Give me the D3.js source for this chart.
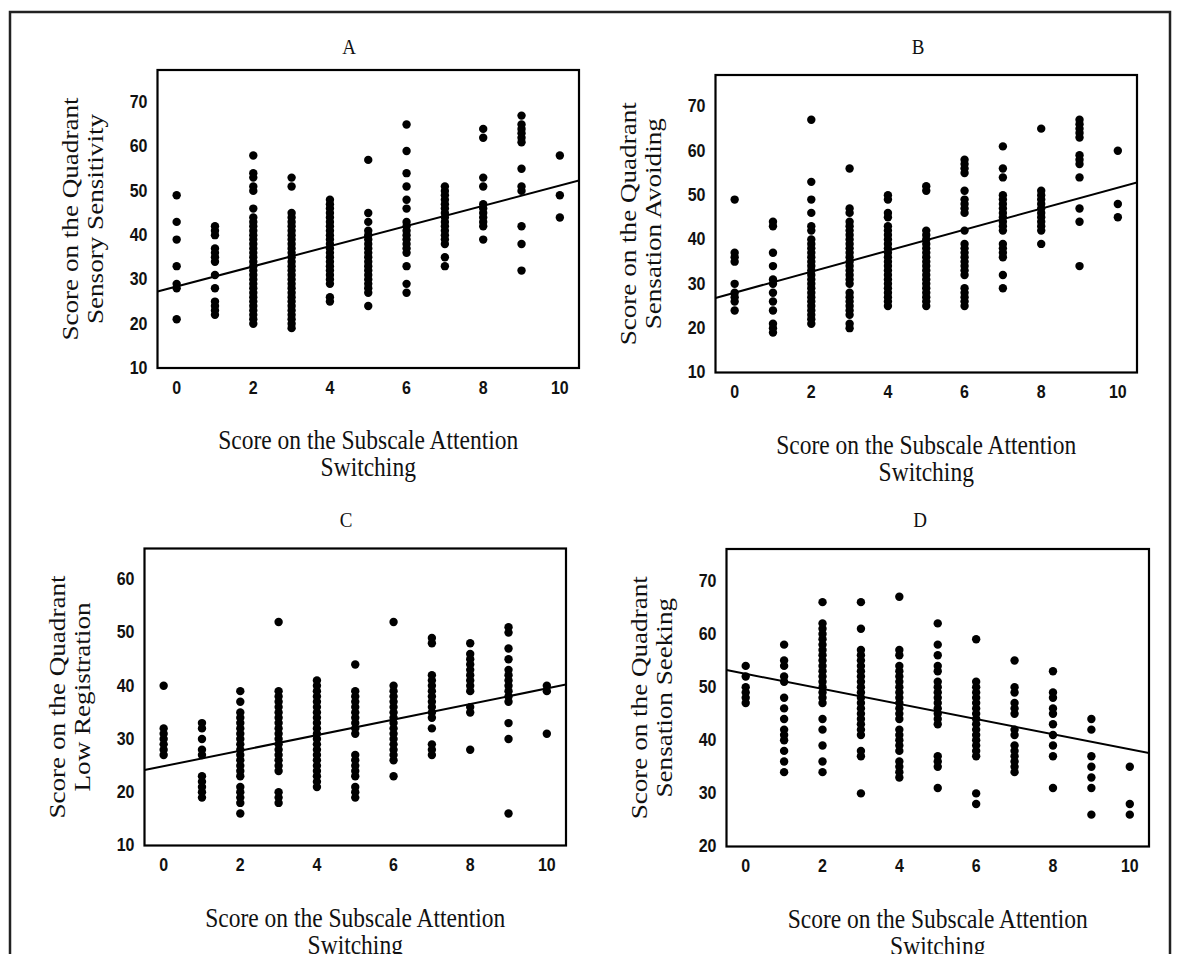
<!DOCTYPE html>
<html>
<head>
<meta charset="utf-8">
<script src="https://cdn.jsdelivr.net/npm/d3@7"></script>
<style>
  body { margin: 0; background: #fff; }
  svg { display: block; }
</style>
</head>
<body>
<div id="chart"></div>
<script>
// scores on the subscale Attention Switching (0..10), one list of quadrant scores per x value
const xScores = [0, 1, 2, 3, 4, 5, 6, 7, 8, 9, 10];
const xTicks = [0, 2, 4, 6, 8, 10];

const sensorySensitivity = [
  [49, 43, 39, 33, 29, 28, 21],
  [42, 41, 40, 37, 36, 35, 34, 31, 28, 25, 24, 23, 22],
  [58, 54, 53, 51, 50, 46, 44, 43, 42, 41, 40, 39, 38, 37, 36, 35, 34, 33, 32, 31, 30, 29, 28, 27, 26, 25, 24, 23, 22, 21, 20],
  [53, 51, 45, 44, 43, 42, 41, 40, 39, 38, 37, 36, 35, 34, 33, 32, 31, 30, 29, 28, 27, 26, 25, 24, 23, 22, 21, 20, 19],
  [48, 47, 46, 45, 44, 43, 42, 41, 40, 39, 38, 37, 36, 35, 34, 33, 32, 31, 30, 29, 26, 25],
  [57, 45, 43, 41, 40, 39, 38, 37, 36, 35, 34, 33, 32, 31, 30, 29, 28, 27, 24],
  [65, 59, 54, 51, 48, 46, 43, 42, 41, 40, 39, 38, 37, 36, 33, 29, 27],
  [51, 50, 49, 48, 47, 46, 45, 44, 43, 42, 41, 40, 39, 38, 35, 33],
  [64, 62, 53, 51, 47, 46, 45, 44, 43, 42, 39],
  [67, 65, 64, 63, 62, 61, 55, 51, 50, 42, 38, 32],
  [58, 49, 44]
];

const sensationAvoiding = [
  [49, 37, 36, 35, 30, 28, 27, 26, 24],
  [44, 43, 37, 34, 31, 30, 28, 26, 24, 21, 20, 19],
  [67, 53, 49, 46, 43, 42, 40, 39, 38, 37, 36, 35, 34, 33, 32, 31, 30, 29, 28, 27, 26, 25, 24, 23, 22, 21],
  [56, 47, 46, 44, 43, 42, 41, 40, 39, 38, 37, 36, 35, 34, 33, 32, 31, 30, 28, 27, 26, 25, 24, 23, 21, 20],
  [50, 49, 46, 45, 43, 42, 41, 40, 39, 38, 37, 36, 35, 34, 33, 32, 31, 30, 29, 28, 27, 26, 25],
  [52, 51, 42, 41, 40, 39, 38, 37, 36, 35, 34, 33, 32, 31, 30, 29, 28, 27, 26, 25],
  [58, 57, 56, 55, 51, 49, 48, 47, 46, 42, 39, 38, 37, 36, 35, 34, 33, 32, 29, 28, 27, 26, 25],
  [61, 56, 54, 50, 49, 48, 47, 46, 45, 44, 43, 42, 39, 38, 37, 36, 32, 29],
  [65, 51, 50, 49, 48, 47, 46, 45, 44, 43, 42, 39],
  [67, 66, 65, 64, 63, 59, 58, 57, 54, 47, 44, 34],
  [60, 48, 45]
];

const lowRegistration = [
  [40, 32, 31, 30, 29, 28, 27],
  [33, 32, 30, 28, 27, 23, 22, 21, 20, 19],
  [39, 37, 35, 34, 33, 32, 31, 30, 29, 28, 27, 26, 25, 24, 23, 21, 20, 19, 18, 16],
  [52, 39, 38, 37, 36, 35, 34, 33, 32, 31, 30, 29, 28, 27, 26, 25, 24, 20, 19, 18],
  [41, 40, 39, 38, 37, 36, 35, 34, 33, 32, 31, 30, 29, 28, 27, 26, 25, 24, 23, 22, 21],
  [44, 39, 38, 37, 36, 35, 34, 33, 32, 31, 27, 26, 25, 24, 23, 21, 20, 19],
  [52, 40, 39, 38, 37, 36, 35, 34, 33, 32, 31, 30, 29, 28, 27, 26, 23],
  [49, 48, 42, 41, 40, 39, 38, 37, 36, 35, 34, 32, 29, 28, 27],
  [48, 46, 45, 44, 43, 42, 41, 40, 39, 36, 35, 28],
  [51, 50, 47, 45, 43, 42, 41, 40, 39, 38, 37, 33, 30, 16],
  [40, 39, 31]
];

const sensationSeeking = [
  [54, 52, 50, 49, 48, 47],
  [58, 55, 54, 52, 51, 48, 46, 44, 42, 41, 40, 38, 36, 34],
  [66, 62, 61, 60, 59, 58, 57, 56, 55, 54, 53, 52, 51, 50, 49, 48, 47, 44, 42, 39, 36, 34],
  [66, 61, 57, 56, 55, 54, 53, 52, 51, 50, 49, 48, 47, 46, 45, 44, 43, 42, 41, 38, 37, 30],
  [67, 57, 56, 54, 53, 52, 51, 50, 49, 48, 47, 46, 45, 44, 42, 41, 40, 39, 38, 36, 35, 34, 33],
  [62, 58, 56, 54, 53, 51, 50, 49, 48, 47, 46, 45, 44, 43, 37, 36, 35, 31],
  [59, 51, 50, 49, 48, 47, 46, 45, 44, 43, 42, 41, 40, 39, 38, 37, 30, 28],
  [55, 50, 49, 47, 46, 45, 42, 41, 39, 38, 37, 36, 35, 34],
  [53, 49, 48, 46, 45, 43, 41, 39, 37, 31],
  [44, 42, 37, 35, 33, 31, 26],
  [35, 28, 26]
];

// fitted regression lines (intercept, slope) for A..D
const fitIntercepts = [28.4, 28.0, 24.9, 52.5];
const fitSlopes = [2.28, 2.37, 1.46, -1.42];

const yTicksA = [10, 20, 30, 40, 50, 60, 70];
const yTicksB = [10, 20, 30, 40, 50, 60, 70];
const yTicksC = [10, 20, 30, 40, 50, 60];
const yTicksD = [20, 30, 40, 50, 60, 70];

const panelTitles = ["A", "B", "C", "D"];
const yTitles = [
  ["Score on the Quadrant", "Sensory Sensitivity"],
  ["Score on the Quadrant", "Sensation Avoiding"],
  ["Score on the Quadrant", "Low Registration"],
  ["Score on the Quadrant", "Sensation Seeking"]
];
const xTitle = ["Score on the Subscale Attention", "Switching"];

const width = 1181, height = 954;
const stretch = 1.13;   // the original picture is a bit taller than wide
const serif = "'Liberation Serif', 'Times New Roman', serif";

// frame boxes [left, top, right, bottom] and title x per panel
const panels = [
  { data: sensorySensitivity, yDomain: [10, 77.3], yTicks: yTicksA, box: [157.5, 70, 579, 368], titleX: 349, titleY: 47 },
  { data: sensationAvoiding, yDomain: [10, 77.1], yTicks: yTicksB, box: [715.5, 75, 1137, 372.5], titleX: 918, titleY: 47 },
  { data: lowRegistration, yDomain: [10, 65.8], yTicks: yTicksC, box: [144.5, 548.5, 566, 845.5], titleX: 346, titleY: 520 },
  { data: sensationSeeking, yDomain: [20, 76], yTicks: yTicksD, box: [726.5, 549, 1149, 846.5], titleX: 920, titleY: 520 }
];

const svg = d3.select("#chart").append("svg")
  .attr("width", width)
  .attr("height", height);

svg.append("rect").attr("width", width).attr("height", height).attr("fill", "#fff");

// outer frame (bottom edge is cut off in the original)
svg.append("path")
  .attr("d", `M10,${height} L10,12 L1170,12 L1170,${height}`)
  .attr("fill", "none")
  .attr("stroke", "#222")
  .attr("stroke-width", 2.5);

function hText(g, x, y, str, size, opts = {}) {
  return g.append("text")
    .attr("transform", `translate(${x},${y}) scale(1,${stretch})`)
    .attr("text-anchor", opts.anchor || "middle")
    .attr("dominant-baseline", "central")
    .attr("font-family", opts.family || serif)
    .attr("font-weight", opts.weight || "normal")
    .attr("font-size", size)
    .attr("fill", "#111")
    .text(str);
}

function vText(g, x, y, str, size) {
  return g.append("text")
    .attr("transform", `translate(${x},${y}) rotate(-90) scale(${stretch},1)`)
    .attr("text-anchor", "middle")
    .attr("dominant-baseline", "central")
    .attr("font-family", serif)
    .attr("font-size", size)
    .attr("fill", "#111")
    .text(str);
}

panels.forEach((p, i) => {
  const [l, t, r, b] = p.box;
  const g = svg.append("g");

  const x = d3.scaleLinear().domain([-0.5, 10.5]).range([l, r]);
  const y = d3.scaleLinear().domain(p.yDomain).range([b, t]);

  const points = [];
  p.data.forEach((vals, k) => vals.forEach(v => points.push({ x: xScores[k], y: v })));

  const clipId = "clip" + i;
  g.append("clipPath").attr("id", clipId)
    .append("rect").attr("x", l).attr("y", t).attr("width", r - l).attr("height", b - t);

  g.append("g").selectAll("circle")
    .data(points)
    .join("circle")
    .attr("cx", d => x(d.x))
    .attr("cy", d => y(d.y))
    .attr("r", 4.2)
    .attr("fill", "#000");

  // regression line across the whole frame
  const x0 = x.domain()[0], x1 = x.domain()[1];
  g.append("line")
    .attr("clip-path", `url(#${clipId})`)
    .attr("x1", x(x0)).attr("y1", y(fitIntercepts[i] + fitSlopes[i] * x0))
    .attr("x2", x(x1)).attr("y2", y(fitIntercepts[i] + fitSlopes[i] * x1))
    .attr("stroke", "#000")
    .attr("stroke-width", 2);

  g.append("rect")
    .attr("x", l).attr("y", t)
    .attr("width", r - l).attr("height", b - t)
    .attr("fill", "none")
    .attr("stroke", "#000")
    .attr("stroke-width", 2.2);

  // tick labels, no tick marks
  p.yTicks.forEach(v => {
    hText(g, l - 10, y(v), v, 16, { anchor: "end", family: "'Liberation Sans', Arial, sans-serif", weight: "bold" });
  });
  xTicks.forEach(v => {
    hText(g, x(v), b + 20, v, 16, { family: "'Liberation Sans', Arial, sans-serif", weight: "bold" });
  });

  hText(g, p.titleX, p.titleY, panelTitles[i], 19);

  const cx = (l + r) / 2, cy = (t + b) / 2;
  hText(g, cx, b + 72, xTitle[0], 23.5);
  hText(g, cx, b + 99, xTitle[1], 23.5);

  vText(g, l - 87, cy, yTitles[i][0], 24);
  vText(g, l - 62, cy, yTitles[i][1], 24);
});
</script>
</body>
</html>
